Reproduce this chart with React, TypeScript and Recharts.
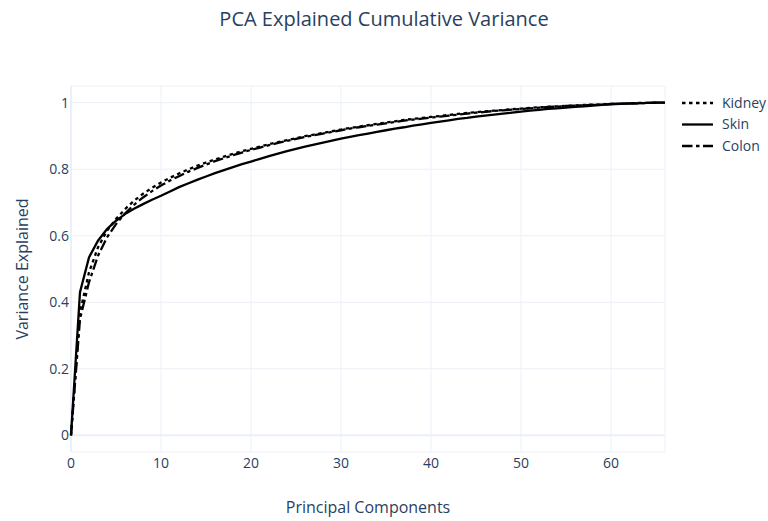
import React from 'react';
import { LineChart, Line, XAxis, YAxis, CartesianGrid, ReferenceLine } from 'recharts';

// principal component index (0 = nothing explained yet)
const components = [
  0, 1, 2, 3, 4, 5, 6, 7, 8, 9, 10, 11, 12, 13, 14, 15, 16, 17, 18, 19, 20, 21, 22,
  23, 24, 25, 26, 27, 28, 29, 30, 31, 32, 33, 34, 35, 36, 37, 38, 39, 40, 41, 42, 43,
  44, 45, 46, 47, 48, 49, 50, 51, 52, 53, 54, 55, 56, 57, 58, 59, 60, 61, 62, 63, 64,
  65, 66,
];

const kidney = [
  0, 0.37, 0.49, 0.565, 0.615, 0.65, 0.68, 0.705, 0.726, 0.744, 0.76, 0.774, 0.787,
  0.799, 0.81, 0.82, 0.829, 0.838, 0.846, 0.854, 0.861, 0.868, 0.875, 0.881, 0.887,
  0.893, 0.899, 0.904, 0.909, 0.914, 0.919, 0.924, 0.928, 0.932, 0.936, 0.94, 0.944,
  0.948, 0.951, 0.954, 0.957, 0.96, 0.963, 0.966, 0.969, 0.971, 0.974, 0.976, 0.978,
  0.98, 0.982, 0.984, 0.986, 0.987, 0.989, 0.99, 0.992, 0.993, 0.994, 0.995, 0.996,
  0.997, 0.998, 0.999, 0.999, 1, 1,
];

const skin = [
  0, 0.43, 0.535, 0.585, 0.62, 0.645, 0.665, 0.681, 0.695, 0.708, 0.72, 0.733, 0.746,
  0.757, 0.768, 0.778, 0.788, 0.797, 0.806, 0.815, 0.823, 0.831, 0.839, 0.847, 0.854,
  0.861, 0.868, 0.874, 0.88, 0.886, 0.892, 0.897, 0.902, 0.907, 0.912, 0.917, 0.922,
  0.926, 0.931, 0.935, 0.939, 0.943, 0.947, 0.951, 0.954, 0.958, 0.961, 0.964, 0.967,
  0.97, 0.973, 0.976, 0.978, 0.981, 0.983, 0.985, 0.987, 0.989, 0.991, 0.993, 0.995,
  0.996, 0.997, 0.998, 0.999, 1, 1,
];

const colon = [
  0, 0.35, 0.46, 0.54, 0.595, 0.635, 0.667, 0.693, 0.715, 0.734, 0.751, 0.766, 0.779,
  0.792, 0.803, 0.814, 0.824, 0.833, 0.842, 0.85, 0.858, 0.865, 0.872, 0.879, 0.885,
  0.891, 0.897, 0.902, 0.907, 0.912, 0.917, 0.922, 0.926, 0.93, 0.934, 0.938, 0.942,
  0.946, 0.949, 0.952, 0.955, 0.958, 0.961, 0.964, 0.967, 0.97, 0.972, 0.975, 0.977,
  0.979, 0.981, 0.983, 0.985, 0.987, 0.988, 0.99, 0.991, 0.992, 0.993, 0.994, 0.996,
  0.997, 0.998, 0.998, 0.999, 1, 1,
];

const xTicks = [0, 10, 20, 30, 40, 50, 60];
const yTicks = [0, 0.2, 0.4, 0.6, 0.8, 1];

const series = [
  { key: 'Kidney', dash: '3.5 3.5' },
  { key: 'Skin', dash: undefined },
  { key: 'Colon', dash: '10.5 3.5 3.5 3.5' },
];

const data = components.map((pc, i) => ({
  pc,
  Kidney: kidney[i],
  Skin: skin[i],
  Colon: colon[i],
}));

const FONT = '"Open Sans", verdana, arial, sans-serif';
const TEXT = '#2a3f5f';
const GRID = '#EBF0F8';
const LW = 2.3;

// legend drawn by hand so it doesn't eat into the plot area
const LegendBox = () => (
  <svg width={92} height={70} style={{ position: 'absolute', left: 678, top: 92 }}>
    {series.map((s, i) => (
      <g key={s.key} transform={`translate(0, ${11 + i * 21.5})`}>
        <line x1={4} x2={35} y1={0} y2={0} stroke="#000" strokeWidth={LW} strokeDasharray={s.dash} />
        <text x={44} y={0} dy="0.35em" fontSize={14} fill={TEXT} fontFamily={FONT}>
          {s.key}
        </text>
      </g>
    ))}
  </svg>
);

export default function App() {
  return (
    <div style={{ position: 'relative', width: 768, height: 521, fontFamily: FONT, background: '#fff' }}>
      <style>{'body { margin: 0; }'}</style>
      <div
        style={{
          position: 'absolute', top: 5, left: 0, width: 768, textAlign: 'center',
          fontSize: 20, color: TEXT,
        }}
      >
        PCA Explained Cumulative Variance
      </div>
      <LineChart width={768} height={521} data={data} margin={{ top: 86, right: 103, bottom: 39, left: 31 }}>
        <CartesianGrid stroke={GRID} strokeWidth={1} />
        <XAxis
          dataKey="pc"
          type="number"
          domain={[0, 66]}
          ticks={xTicks}
          axisLine={false}
          tickLine={false}
          tickSize={0}
          tickMargin={6}
          height={30}
          tick={{ fontSize: 14, fill: TEXT, fontFamily: FONT }}
        />
        <YAxis
          type="number"
          domain={[-0.05, 1.05]}
          ticks={yTicks}
          allowDataOverflow
          axisLine={false}
          tickLine={false}
          tickSize={0}
          tickMargin={2}
          width={40}
          tick={{ fontSize: 14, fill: TEXT, fontFamily: FONT }}
        />
        <ReferenceLine y={0} stroke={GRID} strokeWidth={2} />
        <ReferenceLine x={0} stroke={GRID} strokeWidth={2} />
        {series.map((s) => (
          <Line
            key={s.key}
            type="linear"
            dataKey={s.key}
            stroke="#000"
            strokeWidth={LW}
            strokeDasharray={s.dash}
            dot={false}
            activeDot={false}
            isAnimationActive={false}
          />
        ))}
      </LineChart>
      <LegendBox />
      <div
        style={{
          position: 'absolute', top: 496, left: 71, width: 594, textAlign: 'center',
          fontSize: 16, color: TEXT,
        }}
      >
        Principal Components
      </div>
      <div
        style={{
          position: 'absolute', left: 22, top: 269, transform: 'translate(-50%, -50%) rotate(-90deg)',
          whiteSpace: 'nowrap', fontSize: 16, color: TEXT,
        }}
      >
        Variance Explained
      </div>
    </div>
  );
}
